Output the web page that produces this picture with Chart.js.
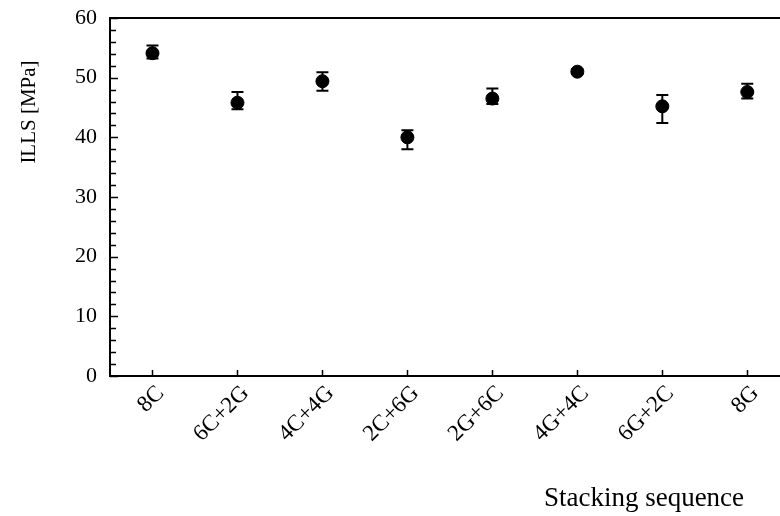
<!DOCTYPE html>
<html lang="en">
  <head>
    <meta charset="UTF-8">
    <title>ILLS vs stacking sequence</title>
    <script src="https://cdn.jsdelivr.net/npm/chart.js"></script>
    <style>
      html, body { margin: 0; padding: 0; background: #fff; overflow: hidden; }
      #wrap { width: 780px; height: 516px; }
    </style>
  </head>
  <body>
    <div id="wrap"><canvas id="illsChart"></canvas></div>
    <script>
      // values
      var categories = ['8C', '6C+2G', '4C+4G', '2C+6G', '2G+6C', '4G+4C', '6G+2C', '8G'];
      var ills = [54.1, 45.8, 49.4, 40.0, 46.5, 51.0, 45.2, 47.6];
      var errUp = [1.3, 1.8, 1.5, 1.2, 1.7, 0.4, 1.9, 1.4];
      var errDown = [0.9, 1.1, 1.6, 2.0, 0.9, 0.4, 2.8, 1.1];
      var yMin = 0, yMax = 60, yStep = 10, yMinorStep = 2;

      var serif = 'Liberation Serif';

      var points = ills.map(function(v, i) { return { x: i, y: v }; });

      // error bars, axis lines, inward ticks and the two axis titles
      var excelLook = {
        id: 'excelLook',
        beforeDatasetsDraw: function(chart) {
          var ctx = chart.ctx, xs = chart.scales.x, ys = chart.scales.y;
          ctx.save();
          ctx.strokeStyle = '#000';
          ctx.lineWidth = 2;
          ills.forEach(function(v, i) {
            var px = xs.getPixelForValue(i);
            var top = ys.getPixelForValue(v + errUp[i]);
            var bot = ys.getPixelForValue(v - errDown[i]);
            ctx.beginPath();
            ctx.moveTo(px, top); ctx.lineTo(px, bot);
            ctx.moveTo(px - 6, top); ctx.lineTo(px + 6, top);
            ctx.moveTo(px - 6, bot); ctx.lineTo(px + 6, bot);
            ctx.stroke();
          });
          ctx.restore();
        },
        afterDraw: function(chart) {
          var ctx = chart.ctx, a = chart.chartArea, xs = chart.scales.x, ys = chart.scales.y;
          ctx.save();
          ctx.strokeStyle = '#000';
          ctx.lineWidth = 2;
          ctx.beginPath();
          ctx.moveTo(a.right, a.top); ctx.lineTo(a.left, a.top);
          ctx.lineTo(a.left, a.bottom); ctx.lineTo(a.right, a.bottom);
          ctx.stroke();

          ctx.lineWidth = 1.5;
          ctx.beginPath();
          for (var v = yMin; v <= yMax; v += yMinorStep) {
            var py = Math.round(ys.getPixelForValue(v)) + 0.5;
            var len = (v % yStep === 0) ? 8 : 6;
            ctx.moveTo(a.left, py); ctx.lineTo(a.left + len, py);
          }
          categories.forEach(function(c, i) {
            var px = Math.round(xs.getPixelForValue(i)) + 0.5;
            ctx.moveTo(px, a.bottom); ctx.lineTo(px, a.bottom - 6);
          });
          ctx.stroke();

          ctx.fillStyle = '#000';
          ctx.textAlign = 'center';
          ctx.textBaseline = 'middle';
          ctx.font = '21px "' + serif + '"';
          ctx.save();
          ctx.translate(29, 112);
          ctx.rotate(-Math.PI / 2);
          ctx.fillText('ILLS [MPa]', 0, 0);
          ctx.restore();
          ctx.font = '27px "' + serif + '"';
          ctx.textBaseline = 'alphabetic';
          ctx.fillText('Stacking sequence', 644, 506);
          ctx.restore();
        }
      };

      new Chart(document.getElementById('illsChart'), {
        type: 'scatter',
        data: {
          datasets: [{
            label: 'ILLS',
            data: points,
            backgroundColor: '#000',
            borderColor: '#000',
            pointRadius: 6.5,
            pointHoverRadius: 6.5
          }]
        },
        options: {
          responsive: true,
          maintainAspectRatio: false,
          animation: false,
          layout: { autoPadding: false, padding: { top: 18, right: 0, left: 0, bottom: 0 } },
          plugins: {
            legend: { display: false },
            tooltip: { enabled: false }
          },
          scales: {
            x: {
              type: 'linear',
              min: -0.5,
              max: 7.385,
              grid: { display: false, drawTicks: false },
              border: { display: false },
              afterBuildTicks: function(scale) {
                scale.ticks = categories.map(function(c, i) { return { value: i }; });
              },
              afterFit: function(scale) {
                scale.height = 140;
                scale.paddingLeft = 0;
                scale.paddingRight = 0;
              },
              ticks: {
                autoSkip: false,
                minRotation: 45,
                maxRotation: 45,
                padding: 4,
                labelOffset: 8,
                color: '#000',
                font: { family: serif, size: 23 },
                callback: function(value) { return categories[value]; }
              }
            },
            y: {
              min: yMin,
              max: yMax,
              grid: { display: false, drawTicks: false },
              border: { display: false },
              afterFit: function(scale) {
                scale.width = 110;
                scale.paddingTop = 0;
                scale.paddingBottom = 0;
              },
              ticks: {
                stepSize: yStep,
                padding: 13,
                color: '#000',
                font: { family: serif, size: 22 }
              }
            }
          }
        },
        plugins: [excelLook]
      });
    </script>
  </body>
</html>
